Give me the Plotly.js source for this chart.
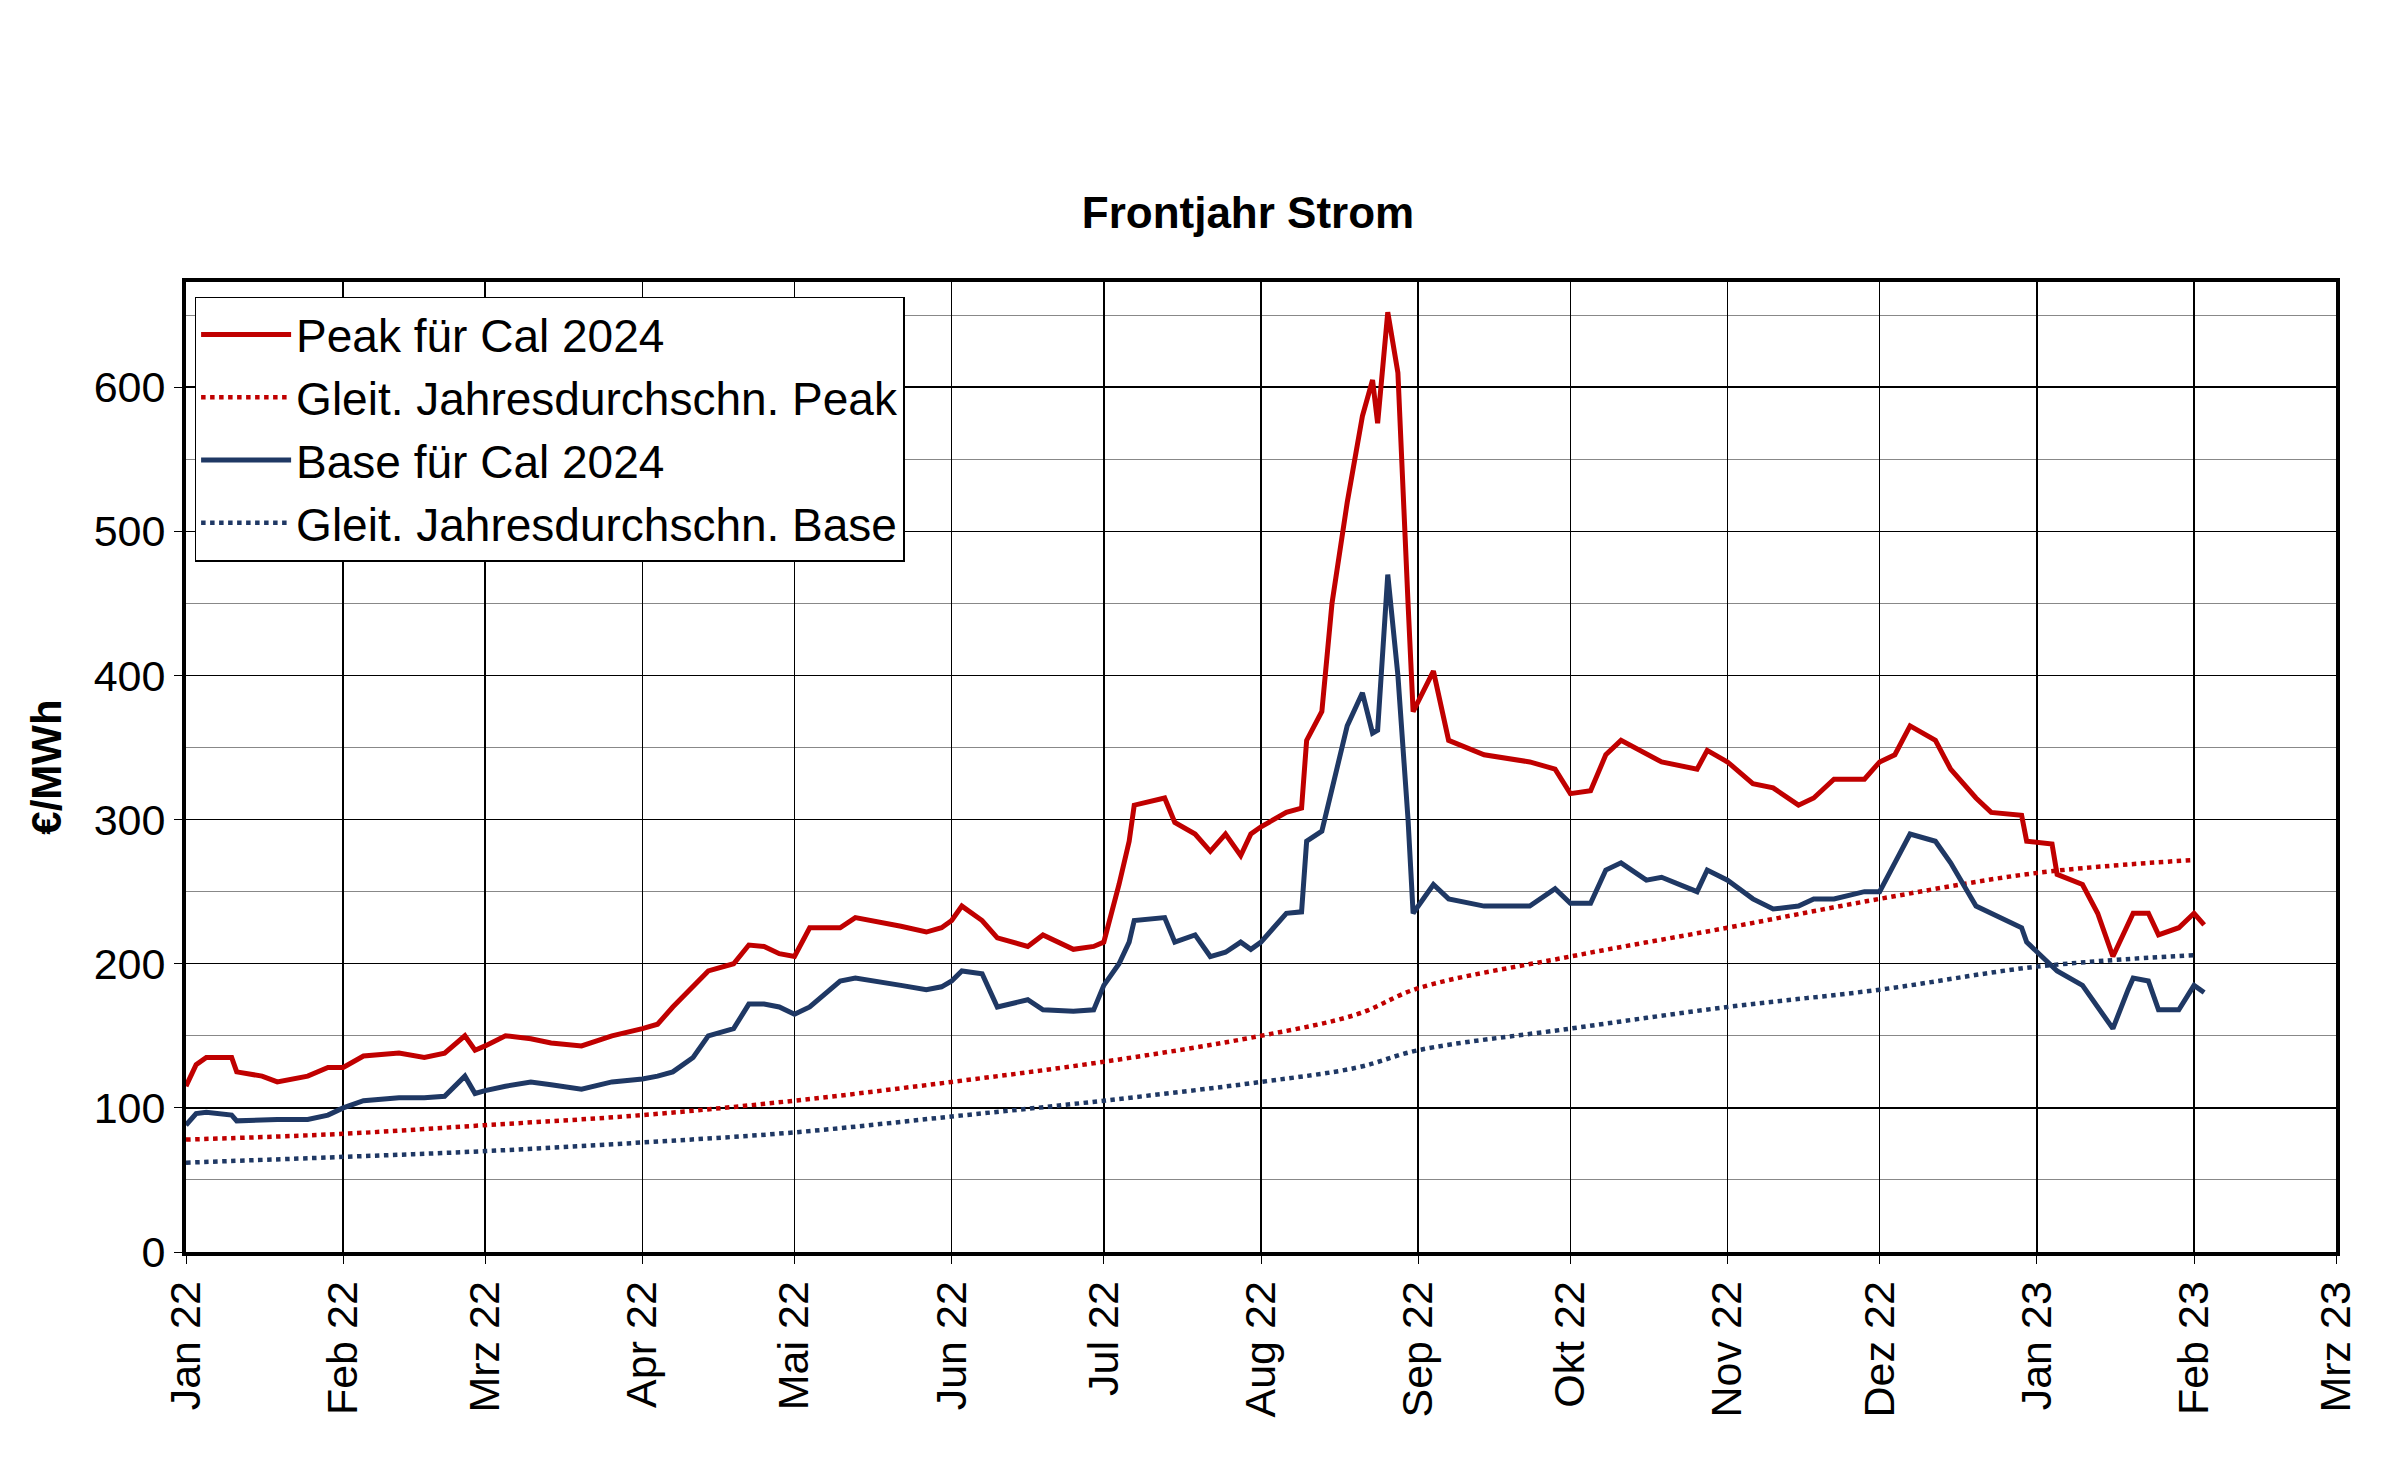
<!DOCTYPE html>
<html><head><meta charset="utf-8">
<script src="https://cdn.plot.ly/plotly-3.0.1.min.js"></script>
<style>body{margin:0}#chart{width:2400px;height:1468px}</style>
</head><body><div id="chart"></div>
<script>
var peakDates = ['2022-01-01','2022-01-03','2022-01-05','2022-01-10','2022-01-11','2022-01-16','2022-01-19','2022-01-25','2022-01-29',
 '2022-02-01','2022-02-05','2022-02-12','2022-02-17','2022-02-21','2022-02-25','2022-02-27',
 '2022-03-01','2022-03-05','2022-03-10','2022-03-14','2022-03-20','2022-03-26',
 '2022-04-01','2022-04-04','2022-04-07','2022-04-11','2022-04-14','2022-04-19','2022-04-22','2022-04-25','2022-04-28',
 '2022-05-01','2022-05-04','2022-05-10','2022-05-13','2022-05-22','2022-05-27','2022-05-30',
 '2022-06-01','2022-06-03','2022-06-07','2022-06-10','2022-06-16','2022-06-19','2022-06-25','2022-06-29',
 '2022-07-01','2022-07-04','2022-07-06','2022-07-07','2022-07-13','2022-07-15','2022-07-19','2022-07-22','2022-07-25','2022-07-28','2022-07-30',
 '2022-08-01','2022-08-06','2022-08-09','2022-08-10','2022-08-13','2022-08-15','2022-08-18','2022-08-21','2022-08-23','2022-08-24','2022-08-26','2022-08-28','2022-08-30','2022-08-31',
 '2022-09-04','2022-09-07','2022-09-14','2022-09-23','2022-09-28',
 '2022-10-01','2022-10-05','2022-10-08','2022-10-11','2022-10-16','2022-10-19','2022-10-26','2022-10-28',
 '2022-11-01','2022-11-06','2022-11-10','2022-11-15','2022-11-18','2022-11-22','2022-11-28',
 '2022-12-01','2022-12-04','2022-12-07','2022-12-12','2022-12-15','2022-12-20','2022-12-23','2022-12-29','2022-12-30',
 '2023-01-04','2023-01-05','2023-01-10','2023-01-13','2023-01-16','2023-01-19','2023-01-20','2023-01-23','2023-01-25','2023-01-29','2023-02-01','2023-02-03'];
var peakValues = [115,130,135,135,125,122,118,122,128,
 128,136,138,135,138,150,140,
 143,150,148,145,143,150,
 155,158,170,185,195,200,213,212,207,
 205,225,225,232,226,222,225,
 230,240,230,218,212,220,210,212,
 215,255,285,310,315,298,290,278,290,275,290,
 295,305,308,355,375,450,520,580,605,575,652,610,450,375,
 403,355,345,340,335,
 318,320,345,355,345,340,335,348,
 340,325,322,310,315,328,328,
 340,345,365,355,335,315,305,303,285,
 283,262,255,235,205,228,235,235,220,225,235,227];
var baseValues = [88,96,97,95,91,92,92,92,95,
 100,105,107,107,108,122,110,
 112,115,118,116,113,118,
 120,122,125,135,150,155,172,172,170,
 165,170,188,190,185,182,184,
 188,195,193,170,175,168,167,168,
 185,200,215,230,232,215,220,205,208,215,210,
 215,235,236,285,292,320,365,388,360,362,470,400,300,235,
 255,245,240,240,252,
 242,242,265,270,258,260,250,265,
 258,245,238,240,245,245,250,
 250,270,290,285,270,240,235,225,215,
 198,195,185,170,155,182,190,188,168,168,185,180];
var maDates = ['2022-01-01','2022-02-01','2022-03-01','2022-04-01','2022-05-01','2022-06-01','2022-07-01','2022-08-01','2022-08-20','2022-09-01','2022-10-01','2022-11-01','2022-12-01','2023-01-01','2023-02-01'];
var peakMA = [78,82,88,95,105,118,132,150,165,183,205,225,245,263,272];
var baseMA = [62,66,70,76,83,94,105,118,128,140,155,170,182,198,206];
var tickDates = ['2022-01-01','2022-02-01','2022-03-01','2022-04-01','2022-05-01','2022-06-01','2022-07-01','2022-08-01','2022-09-01','2022-10-01','2022-11-01','2022-12-01','2023-01-01','2023-02-01','2023-03-01'];
var tickLabels = ['Jan 22','Feb 22','Mrz 22','Apr 22','Mai 22','Jun 22','Jul 22','Aug 22','Sep 22','Okt 22','Nov 22','Dez 22','Jan 23','Feb 23','Mrz 23'];

var red = '#C00000', navy = '#1F3864';
var data = [
  {x: peakDates, y: peakValues, name: 'Peak für Cal 2024', type: 'scatter', mode: 'lines', line: {color: red, width: 5}},
  {x: maDates, y: peakMA, name: 'Gleit. Jahresdurchschn. Peak', type: 'scatter', mode: 'lines', line: {color: red, width: 4.5, dash: 'dot', shape: 'spline'}},
  {x: peakDates, y: baseValues, name: 'Base für Cal 2024', type: 'scatter', mode: 'lines', line: {color: navy, width: 5}},
  {x: maDates, y: baseMA, name: 'Gleit. Jahresdurchschn. Base', type: 'scatter', mode: 'lines', line: {color: navy, width: 4.5, dash: 'dot', shape: 'spline'}}
];
var layout = {
  width: 2400, height: 1468,
  font: {family: 'Liberation Sans, Arial', size: 42, color: '#000'},
  paper_bgcolor: '#fff', plot_bgcolor: '#fff',
  margin: {l: 186, r: 64, t: 282, b: 216},
  title: {text: '<b>Frontjahr Strom</b>', x: 0.52, xanchor: 'center', y: 0.855, yanchor: 'middle', font: {size: 44}},
  showlegend: true,
  legend: {x: 0.004, y: 0.985, xanchor: 'left', yanchor: 'top', bgcolor: '#fff', bordercolor: '#000', borderwidth: 1.5,
    font: {size: 46}, tracegroupgap: 0, itemwidth: 90},
  xaxis: {type: 'date', range: ['2022-01-01', '2023-03-01'], tickmode: 'array', tickvals: tickDates, ticktext: tickLabels,
    tickangle: -90, showgrid: true, gridcolor: '#000', gridwidth: 1.5, showline: true, mirror: true, linecolor: '#000', linewidth: 4,
    ticks: 'outside', ticklen: 8, tickcolor: '#000', tickfont: {size: 43}, zeroline: false},
  yaxis: {range: [0, 673], dtick: 100, showgrid: true, gridcolor: '#000', gridwidth: 1.5, showline: true, mirror: true,
    linecolor: '#000', linewidth: 4, ticks: 'outside', ticklen: 8, tickcolor: '#000', tickfont: {size: 43}, zeroline: false,
    minor: {dtick: 50, showgrid: true, gridcolor: '#888', gridwidth: 1},
    title: {text: '<b>€/MWh</b>', font: {size: 42}, standoff: 20}}
};
Plotly.newPlot('chart', data, layout, {staticPlot: true});
</script></body></html>
